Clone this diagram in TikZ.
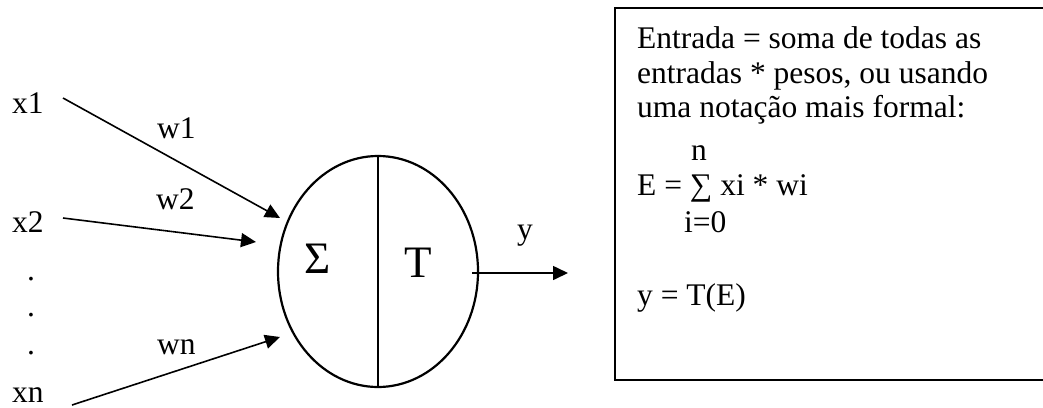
\documentclass[tikz,border=0pt]{standalone}
\usepackage{fontspec}
\setmainfont{Liberation Serif}
\usetikzlibrary{arrows.meta,shapes.geometric}
\begin{document}
\begin{tikzpicture}[x=1pt,y=-1pt,
  txt/.style={inner sep=0pt,anchor=base west,font=\fontsize{31.5}{36}\selectfont},
  big/.style={inner sep=0pt,anchor=base,font=\fontsize{45}{50}\selectfont},
  conn/.style={line width=1.6pt,-{Triangle[length=15pt,width=14pt]}},
  outline/.style={line width=2.2pt}]
\useasboundingbox (0,0) rectangle (1043,407);
\clip (0,0) rectangle (1043,407);
% inputs
\node[txt] (x1) at (12,113) {x1};
\node[txt] (x2) at (12,232) {x2};
\node[txt] (d1) at (27,280) {.};
\node[txt] (d2) at (27,316) {.};
\node[txt] (d3) at (27,354) {.};
\node[txt] (xn) at (12,402) {xn};
\node[txt] (w1) at (157,138) {w1};
\node[txt] (w2) at (156,209) {w2};
\node[txt] (wn) at (157,354) {wn};
% neuron
\node[draw,ellipse,outline,minimum width=200pt,minimum height=231pt,inner sep=0pt] (neuron) at (378,271.5) {};
\draw[outline] (neuron.north) -- (neuron.south);
\node[big] (sigma) at (318,273) {Σ};
\node[big] (T) at (418,277) {T};
% connectors
\coordinate (s1) at (63,98);
\coordinate (t1) at (280,218);
\coordinate (s2) at (63,218);
\coordinate (t2) at (256,242);
\coordinate (sn) at (72,405);
\coordinate (tn) at (280,337);
\coordinate (so) at (472,273);
\coordinate (to) at (568,273);
\draw[conn] (s1) -- (t1);
\draw[conn] (s2) -- (t2);
\draw[conn] (sn) -- (tn);
\draw[conn] (so) -- (to);
\node[txt] (ylab) at (517,239) {y};
% formula box
\draw[line width=2pt] (1060,8) -- (615,8) -- (615,380) -- (1060,380);
\node[txt] (l1) at (637,48) {Entrada = soma de todas as};
\node[txt] (l2) at (637,83) {entradas * pesos, ou usando};
\node[txt] (l3) at (637,117) {uma notação mais formal:};
\node[txt] (ln) at (691,160) {n};
\node[txt] (le) at (637,195) {E = ∑ xi * wi};
\node[txt] (li) at (684,232) {i=0};
\node[txt] (ly) at (637,305) {y = T(E)};
\end{tikzpicture}
\end{document}
